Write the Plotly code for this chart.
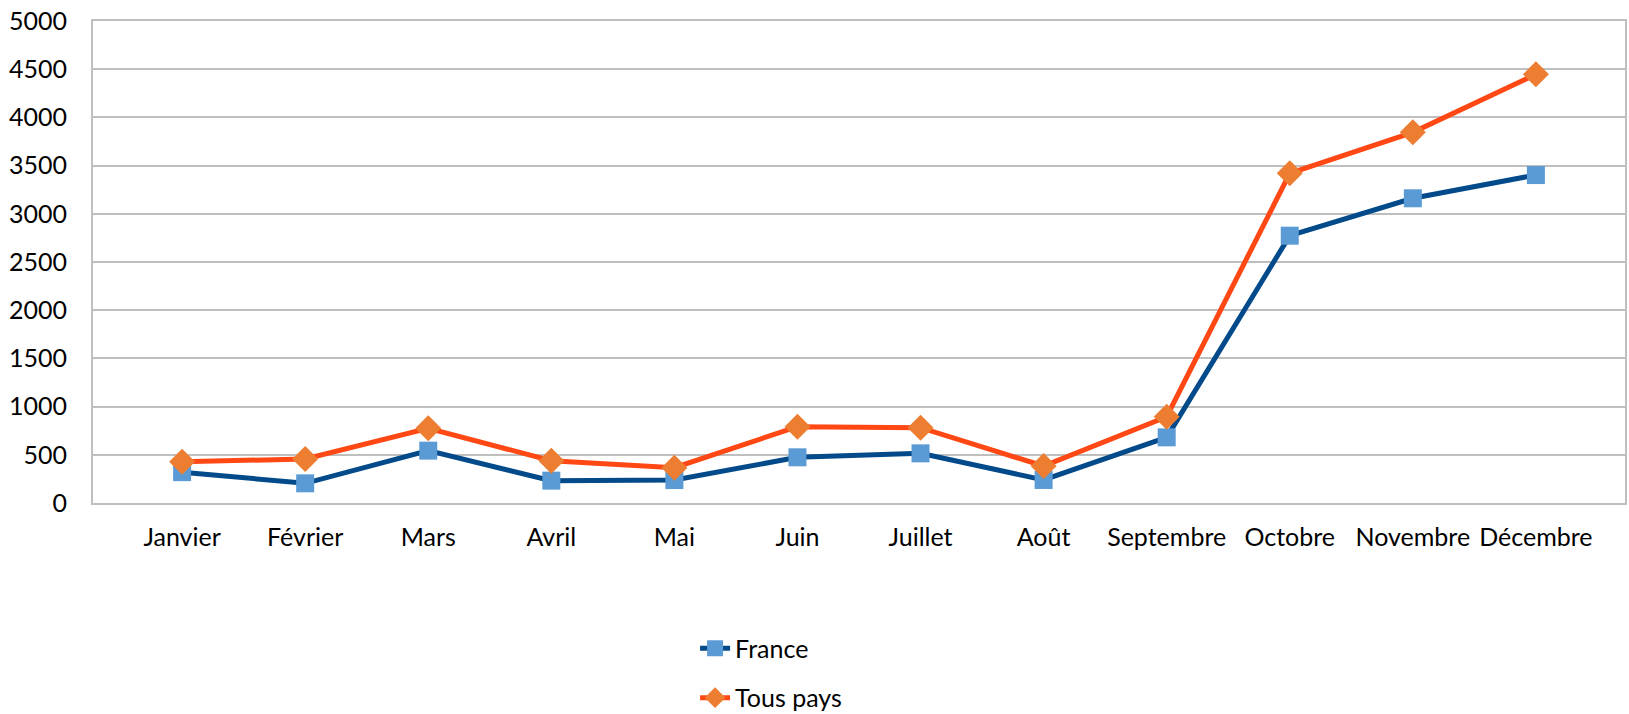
import plotly.graph_objects as go

months = ["Janvier", "Février", "Mars", "Avril", "Mai", "Juin", "Juillet",
          "Août", "Septembre", "Octobre", "Novembre", "Décembre"]
france = [320, 204, 543, 232, 238, 474, 515, 239, 681, 2773, 3161, 3402]
tous_pays = [428, 456, 775, 439, 366, 792, 781, 384, 895, 3420, 3845, 4447]
y_ticks = [0, 500, 1000, 1500, 2000, 2500, 3000, 3500, 4000, 4500, 5000]

FONT = "Lato, sans-serif"
FS = 25

fig = go.Figure()
fig.add_trace(go.Scatter(
    x=months, y=france, name="France", mode="lines+markers",
    line=dict(color="#024A8A", width=5),
    marker=dict(symbol="square", size=18, color="#5B9BD5"),
    legendgroup="a",
))
fig.add_trace(go.Scatter(
    x=months, y=tous_pays, name="Tous pays", mode="lines+markers",
    line=dict(color="#FF4814", width=5),
    marker=dict(symbol="diamond", size=20, color="#ED7D31"),
    legendgroup="b",
))

fig.update_layout(
    width=1629, height=714,
    margin=dict(l=93, r=4, t=21, b=211),
    paper_bgcolor="white", plot_bgcolor="white",
    font=dict(family=FONT, size=FS, color="#000000"),
    showlegend=True,
    legend=dict(
        orientation="v", xref="paper", x=0.393, yref="container", y=0.124,
        xanchor="left", yanchor="top",
        font=dict(family=FONT, size=FS, color="#000000"),
        tracegroupgap=14, bgcolor="rgba(0,0,0,0)",
    ),
    xaxis=dict(
        showgrid=False, showline=True, linecolor="#BFBFBF", linewidth=2,
        mirror=True, ticks="", ticklabelstandoff=11, automargin=False,
        tickfont=dict(family=FONT, size=FS),
    ),
    yaxis=dict(
        range=[0, 5000], tickvals=y_ticks, showgrid=True, gridcolor="#BFBFBF",
        gridwidth=1.5, showline=True, linecolor="#BFBFBF", linewidth=2,
        mirror=True, ticks="", zeroline=False, ticklabelstandoff=19,
        automargin=False, tickfont=dict(family=FONT, size=FS),
    ),
)

# remove the browser's default 8px body margin so the figure fills the window
fig.write_html("out.html", config={"displayModeBar": False},
               post_script="document.body.style.margin='0';")
